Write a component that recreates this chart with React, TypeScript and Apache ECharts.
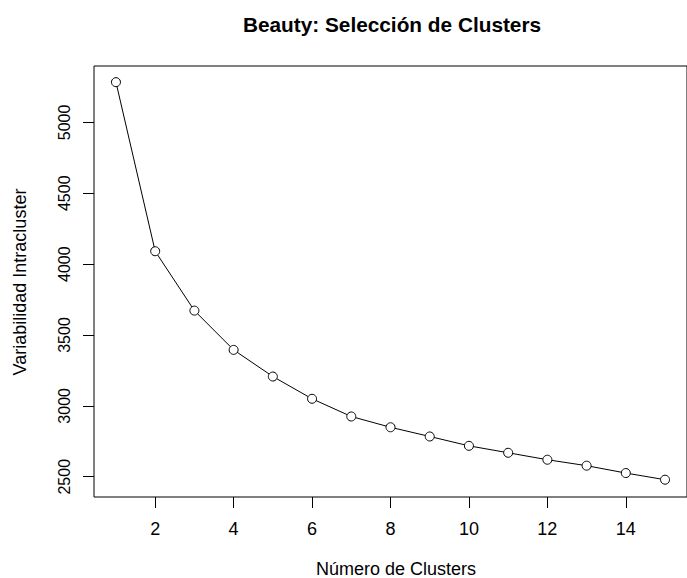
import React, { useEffect, useRef } from "react";
import * as echarts from "echarts";

const clusters = [1, 2, 3, 4, 5, 6, 7, 8, 9, 10, 11, 12, 13, 14, 15];
const withinSS = [5284, 4091, 3672, 3395, 3207, 3050, 2925, 2849, 2784, 2718, 2669, 2620, 2578, 2526, 2479];
const xTicks = [2, 4, 6, 8, 10, 12, 14];
const yTicks = [2500, 3000, 3500, 4000, 4500, 5000];

const titleText = "Beauty: Selección de Clusters";
const xName = "Número de Clusters";
const yName = "Variabilidad Intracluster";

const FONT = "'Liberation Sans', Arial, Helvetica, sans-serif";

export default function App() {
  const ref = useRef<HTMLDivElement>(null);
  useEffect(() => {
    if (!ref.current) return;
    const chart = echarts.init(ref.current, undefined, { renderer: "svg" });
    const data = clusters.map((c, i) => [c, withinSS[i]]);
    chart.setOption({
      animation: false,
      backgroundColor: "#fff",
      grid: {
        left: 94,
        top: 66,
        right: -12,
        bottom: 81,
        show: true,
        borderColor: "#000",
        borderWidth: 1,
        backgroundColor: "transparent",
      },
      xAxis: {
        type: "value",
        min: 0.44,
        max: 15.56,
        axisLine: { show: false },
        splitLine: { show: false },
        axisTick: {
          show: true,
          inside: false,
          length: 11,
          customValues: xTicks,
          lineStyle: { color: "#000", width: 1 },
        },
        axisLabel: {
          customValues: xTicks,
          margin: 23,
          color: "#000",
          fontFamily: FONT,
          fontSize: 18,
          formatter: (v: number) => String(v),
        },
      },
      yAxis: {
        type: "value",
        min: 2357,
        max: 5398,
        axisLine: { show: false },
        splitLine: { show: false },
        axisTick: {
          show: true,
          inside: false,
          length: 11,
          customValues: yTicks,
          lineStyle: { color: "#000", width: 1 },
        },
        axisLabel: {
          customValues: yTicks,
          rotate: 90,
          margin: 22,
          color: "#000",
          fontFamily: FONT,
          fontSize: 16,
          formatter: (v: number) => String(v),
        },
      },
      graphic: [
        {
          type: "text",
          x: 392,
          y: 24,
          style: {
            text: titleText,
            fill: "#000",
            font: `bold 20.8px ${FONT}`,
            textAlign: "center",
            textVerticalAlign: "middle",
          },
        },
        {
          type: "text",
          x: 396,
          y: 569,
          style: {
            text: xName,
            fill: "#000",
            font: `18px ${FONT}`,
            textAlign: "center",
            textVerticalAlign: "middle",
          },
        },
        {
          type: "text",
          x: 20,
          y: 282,
          rotation: Math.PI / 2,
          style: {
            text: yName,
            fill: "#000",
            font: `18px ${FONT}`,
            textAlign: "center",
            textVerticalAlign: "middle",
          },
        },
      ],
      series: [
        {
          type: "line",
          data,
          symbol: "circle",
          symbolSize: 9,
          showSymbol: true,
          lineStyle: { color: "#000", width: 1 },
          itemStyle: { color: "#fff", borderColor: "#000", borderWidth: 1 },
          emphasis: { disabled: true },
          z: 3,
        },
      ],
    });
    return () => chart.dispose();
  }, []);
  return (
    <div
      ref={ref}
      style={{ position: "fixed", left: 0, top: 0, width: 687, height: 578, background: "#fff" }}
    />
  );
}
